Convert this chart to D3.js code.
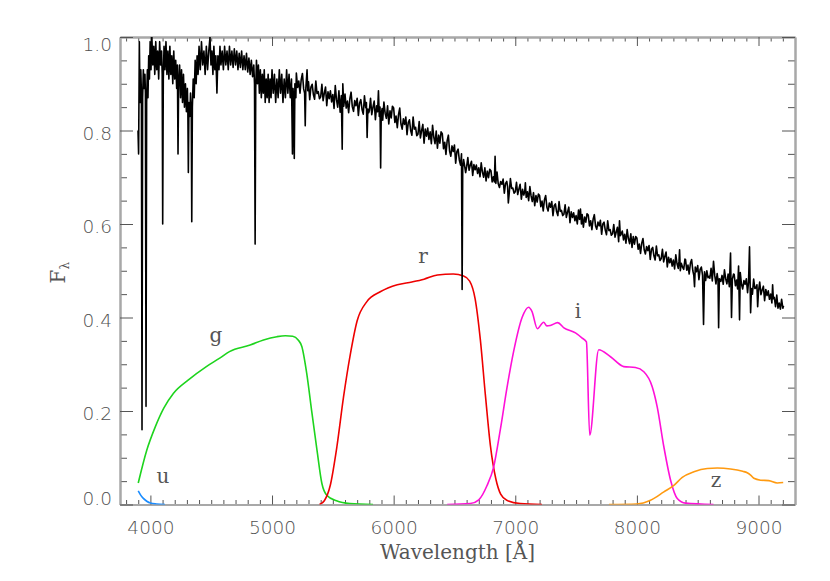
<!DOCTYPE html>
<html>
<head>
<meta charset="utf-8">
<script src="https://cdn.jsdelivr.net/npm/d3@7"></script>
<style>
    body { margin: 0; background: #fff; }
    #chart { width: 830px; height: 581px; }
    .axis .domain { stroke: #a8a8a8; stroke-width: 2; }
    .axis line { stroke: #555; stroke-width: 1; }
    .axis text { font-family: "DejaVu Sans", sans-serif; font-weight: 200; font-size: 18.5px; fill: #505050; }
    .label { font-family: "DejaVu Serif", serif; font-size: 20px; fill: #555; }
</style>
</head>
<body>
<div id="chart"></div>
<script>
// tick labels
const xTickValues = [4000, 5000, 6000, 7000, 8000, 9000];
const yTickValues = [0.0, 0.2, 0.4, 0.6, 0.8, 1.0];

// stellar spectrum, [wavelength (A), flux]
const spectrum = [
    [3898,0.80],[3903,0.75],[3909,0.99],[3915,0.86],[3921,0.93],[3926,0.88],[3931,0.16],[3936,0.87],
    [3942,0.93],[3948,0.89],[3955,0.92],[3959,0.88],[3964,0.21],[3969,0.86],[3975,0.93],[3980,0.87],
    [3986,0.96],[3992,0.91],[3998,0.99],[4005,0.93],[4012,1.0],[4020,0.94],[4028,0.98],[4036,0.92],
    [4044,0.99],[4052,0.93],[4060,0.97],[4068,0.91],[4076,0.99],[4084,0.94],[4092,0.97],[4097,0.92],
    [4101,0.60],[4106,0.91],[4112,0.98],[4120,0.93],[4128,0.99],[4136,0.92],[4144,0.97],[4152,0.91],
    [4160,0.98],[4168,0.92],[4176,0.96],[4184,0.90],[4192,0.97],[4200,0.91],[4208,0.95],[4216,0.89],
    [4222,0.94],[4227,0.75],[4232,0.90],[4240,0.94],[4248,0.87],[4256,0.93],[4264,0.86],[4272,0.92],
    [4280,0.85],[4288,0.90],[4296,0.84],[4304,0.89],[4308,0.84],[4312,0.71],[4317,0.86],[4324,0.83],
    [4330,0.88],[4336,0.84],[4340,0.605],[4345,0.85],[4352,0.91],[4360,0.87],[4368,0.95],[4376,0.90],
    [4384,0.96],[4392,0.92],[4400,0.98],[4410,0.93],[4420,0.99],[4430,0.94],[4440,0.97],[4450,0.92],
    [4460,0.98],[4470,0.93],[4480,0.97],[4490,1.0],[4498,0.94],[4506,0.97],[4514,0.92],[4522,0.98],
    [4530,0.93],[4538,0.96],[4547,0.88],[4555,0.96],[4564,0.93],[4572,0.98],[4580,0.94],[4590,0.97],
    [4600,0.93],[4610,0.98],[4620,0.94],[4630,0.97],[4640,0.93],[4650,0.98],[4660,0.94],[4670,0.97],
    [4680,0.935],[4690,0.975],[4700,0.94],[4710,0.97],[4720,0.93],[4730,0.965],[4740,0.935],[4750,0.97],
    [4760,0.93],[4770,0.96],[4780,0.93],[4790,0.965],[4800,0.925],[4810,0.955],[4820,0.92],[4830,0.95],
    [4840,0.915],[4850,0.94],[4856,0.90],[4861,0.557],[4866,0.89],[4872,0.95],[4880,0.90],[4888,0.94],
    [4896,0.88],[4904,0.93],[4912,0.87],[4920,0.92],[4928,0.88],[4936,0.93],[4944,0.86],[4952,0.91],
    [4960,0.87],[4968,0.92],[4976,0.86],[4984,0.91],[4992,0.87],[5000,0.93],[5010,0.88],[5020,0.92],
    [5030,0.86],[5040,0.91],[5050,0.87],[5060,0.93],[5070,0.88],[5080,0.92],[5090,0.86],[5100,0.91],
    [5110,0.87],[5120,0.93],[5130,0.88],[5140,0.92],[5150,0.87],[5160,0.91],[5168,0.75],[5173,0.89],
    [5178,0.86],[5183,0.74],[5188,0.90],[5196,0.87],
    [5200,0.923],[5210,0.892],[5220,0.906],[5230,0.880],[5240,0.909],[5250,0.922],[5260,0.889],[5268,0.88],
    [5273,0.81],[5278,0.89],[5288,0.93],[5294,0.885],
    [5300,0.904],[5310,0.866],[5320,0.893],[5330,0.899],[5340,0.877],[5350,0.867],[5360,0.906],[5370,0.879],
    [5380,0.883],[5390,0.868],
    [5400,0.872],[5410,0.899],[5420,0.864],[5430,0.880],[5440,0.893],[5450,0.853],[5460,0.883],[5470,0.868],
    [5480,0.885],[5490,0.861],
    [5500,0.877],[5510,0.847],[5520,0.896],[5530,0.866],[5540,0.850],[5550,0.885],[5560,0.839],[5570,0.875],
    [5577,0.76],[5582,0.90],[5590,0.852],
    [5600,0.878],[5610,0.848],[5620,0.863],[5630,0.838],[5640,0.868],[5650,0.882],[5660,0.851],[5670,0.841],
    [5680,0.864],[5690,0.853],
    [5700,0.869],[5710,0.832],[5720,0.859],[5730,0.866],[5740,0.845],[5750,0.835],[5760,0.874],[5770,0.849],
    [5776,0.86],[5782,0.785],[5788,0.846],[5795,0.838],
    [5800,0.842],[5810,0.869],[5820,0.834],[5830,0.850],[5840,0.863],[5850,0.823],[5860,0.853],[5868,0.84],
    [5875,0.885],[5882,0.83],[5888,0.85],[5893,0.72],[5898,0.835],
    [5905,0.847],[5910,0.822],[5920,0.861],[5930,0.837],[5940,0.826],[5950,0.853],[5960,0.814],[5970,0.842],
    [5980,0.827],[5990,0.852],
    [6000,0.848],[6010,0.817],[6020,0.831],[6030,0.806],[6040,0.834],[6050,0.848],[6060,0.814],[6070,0.803],
    [6080,0.825],[6090,0.813],
    [6100,0.829],[6110,0.791],[6120,0.817],[6130,0.823],[6140,0.800],[6150,0.790],[6160,0.829],[6170,0.803],
    [6180,0.807],[6190,0.789],
    [6200,0.792],[6210,0.819],[6220,0.784],[6230,0.800],[6240,0.813],[6250,0.773],[6260,0.803],[6270,0.788],
    [6280,0.805],[6290,0.781],
    [6300,0.797],[6310,0.772],[6320,0.811],[6330,0.786],[6340,0.772],[6350,0.799],[6360,0.762],[6370,0.790],
    [6380,0.773],[6390,0.797],
    [6400,0.793],[6410,0.761],[6420,0.775],[6430,0.749],[6440,0.778],[6450,0.790],[6460,0.756],[6470,0.745],
    [6480,0.767],[6490,0.755],
    [6500,0.769],[6510,0.730],[6520,0.755],[6530,0.760],[6540,0.737],[6550,0.726],[6558,0.75],[6563,0.46],
    [6568,0.72],[6575,0.738],[6585,0.722],[6592,0.71],
    [6600,0.722],[6610,0.742],[6620,0.715],[6630,0.726],[6640,0.734],[6650,0.704],[6660,0.727],[6670,0.716],
    [6680,0.726],[6690,0.708],
    [6700,0.720],[6710,0.701],[6720,0.731],[6730,0.711],[6740,0.700],[6750,0.720],[6760,0.692],[6770,0.713],
    [6780,0.699],[6790,0.717],
    [6800,0.714],[6810,0.690],[6820,0.701],[6828,0.69],[6834,0.745],[6840,0.687],[6850,0.711],[6860,0.686],
    [6870,0.678],[6880,0.691],[6890,0.685],
    [6900,0.696],[6910,0.666],[6920,0.687],[6930,0.691],[6937,0.68],[6943,0.645],[6950,0.665],[6960,0.697],
    [6970,0.676],[6980,0.677],[6990,0.666],
    [7000,0.669],[7010,0.689],[7020,0.663],[7030,0.675],[7040,0.685],[7050,0.653],[7060,0.674],[7070,0.662],
    [7078,0.670],[7083,0.688],[7090,0.657],
    [7100,0.669],[7110,0.650],[7120,0.680],[7130,0.660],[7140,0.648],[7150,0.667],[7160,0.639],[7170,0.661],
    [7180,0.647],[7190,0.664],
    [7200,0.661],[7210,0.637],[7220,0.649],[7230,0.628],[7240,0.652],[7250,0.661],[7260,0.636],[7270,0.628],
    [7280,0.645],[7290,0.636],
    [7300,0.648],[7310,0.618],[7320,0.639],[7330,0.643],[7340,0.626],[7350,0.618],[7360,0.648],[7370,0.627],
    [7380,0.629],[7390,0.618],
    [7400,0.621],[7410,0.641],[7420,0.614],[7430,0.626],[7440,0.636],[7450,0.603],[7460,0.626],[7470,0.614],
    [7480,0.624],[7490,0.607],
    [7500,0.618],[7510,0.600],[7520,0.630],[7528,0.610],[7536,0.632],[7544,0.600],[7550,0.620],[7560,0.593],
    [7570,0.615],[7580,0.604],[7590,0.622],
    [7600,0.619],[7610,0.596],[7620,0.607],[7630,0.588],[7640,0.610],[7650,0.620],[7660,0.596],[7670,0.589],
    [7680,0.604],[7690,0.596],
    [7700,0.608],[7710,0.578],[7720,0.600],[7730,0.604],[7740,0.587],[7750,0.577],[7760,0.607],[7770,0.586],
    [7780,0.588],[7790,0.576],
    [7800,0.579],[7810,0.599],[7820,0.572],[7830,0.583],[7840,0.593],[7850,0.562],[7857,0.607],[7864,0.575],
    [7870,0.578],[7880,0.585],[7890,0.566],
    [7900,0.578],[7910,0.559],[7920,0.588],[7930,0.569],[7940,0.558],[7950,0.579],[7960,0.550],[7970,0.573],
    [7980,0.557],[7990,0.573],
    [8000,0.570],[8010,0.546],[8020,0.557],[8030,0.537],[8040,0.559],[8050,0.569],[8060,0.545],[8070,0.536],
    [8080,0.552],[8090,0.543],
    [8100,0.554],[8110,0.524],[8120,0.546],[8130,0.550],[8140,0.532],[8150,0.523],[8160,0.553],[8170,0.532],
    [8180,0.534],[8190,0.522],
    [8200,0.526],[8210,0.546],[8220,0.519],[8230,0.531],[8240,0.540],[8250,0.508],[8260,0.529],[8270,0.517],
    [8280,0.526],[8290,0.510],
    [8300,0.523],[8310,0.504],[8320,0.534],[8330,0.515],[8340,0.505],[8346,0.52],[8351,0.545],[8357,0.50],
    [8365,0.516],[8375,0.508],[8385,0.503],[8395,0.525],
    [8400,0.524],[8410,0.501],[8420,0.512],[8430,0.493],[8440,0.516],[8450,0.524],[8460,0.500],[8468,0.49],
    [8474,0.466],[8480,0.508],[8490,0.498],
    [8500,0.511],[8510,0.481],[8520,0.503],[8530,0.508],[8540,0.490],[8548,0.385],[8556,0.498],[8565,0.479],
    [8575,0.500],[8585,0.485],[8595,0.488],
    [8600,0.484],[8610,0.505],[8620,0.478],[8630,0.52],[8640,0.490],[8650,0.472],[8660,0.494],[8667,0.48],
    [8672,0.378],[8678,0.483],[8690,0.477],
    [8700,0.490],[8710,0.471],[8720,0.502],[8730,0.483],[8740,0.472],[8750,0.493],[8760,0.466],[8770,0.538],
    [8778,0.40],[8785,0.482],[8795,0.493],
    [8800,0.492],[8810,0.468],[8820,0.480],[8828,0.461],[8836,0.51],[8844,0.395],[8850,0.496],[8860,0.471],
    [8870,0.461],[8880,0.479],[8890,0.471],
    [8900,0.483],[8910,0.453],[8918,0.476],[8926,0.551],[8935,0.41],[8942,0.462],[8950,0.450],[8960,0.482],
    [8970,0.462],[8980,0.464],[8987,0.47],[8993,0.423],
    [9000,0.456],[9010,0.476],[9020,0.449],[9030,0.459],[9040,0.467],[9050,0.436],[9060,0.460],[9070,0.447],
    [9080,0.457],[9090,0.439],
    [9100,0.450],[9110,0.431],[9116,0.47],[9122,0.44],[9130,0.443],[9140,0.423],[9150,0.448],[9160,0.420],
    [9170,0.431],[9180,0.418],[9190,0.439],[9200,0.420],[9206,0.425]
];

// SDSS filter transmission curves, [wavelength (A), throughput]
const uFilter = [[3900,0.029],[3920,0.020],[3942,0.013],[3970,0.007],[4000,0.003],[4050,0.001],[4120,0.0]];
const gFilter = [[3900,0.046],[3970,0.116],[4040,0.166],[4110,0.206],[4190,0.238],[4310,0.266],[4460,0.295],
    [4570,0.313],[4650,0.327],[4820,0.341],[4930,0.352],[5040,0.359],[5110,0.361],[5170,0.360],[5215,0.352],
    [5245,0.338],[5285,0.281],[5325,0.202],[5370,0.116],[5410,0.045],[5450,0.020],[5530,0.008],[5640,0.002],[5830,0.0]];
const rFilter = [[5390,0.0],[5430,0.008],[5478,0.04],[5533,0.123],[5588,0.23],[5643,0.32],[5700,0.393],
    [5780,0.434],[5890,0.455],[6030,0.47],[6150,0.476],[6250,0.482],[6360,0.491],[6490,0.493],[6575,0.489],
    [6625,0.478],[6670,0.44],[6713,0.352],[6754,0.235],[6795,0.127],[6840,0.055],[6880,0.022],[6930,0.009],
    [7040,0.002],[7220,0.0]];
const iFilter = [[6440,0.0],[6630,0.002],[6700,0.01],[6767,0.04],[6822,0.08],[6877,0.16],[6932,0.25],
    [6987,0.328],[7056,0.40],[7110,0.422],[7137,0.413],[7182,0.376],[7233,0.39],[7260,0.382],[7288,0.383],
    [7349,0.389],[7400,0.378],[7495,0.367],[7550,0.356],[7585,0.348],[7612,0.148],[7686,0.331],[7783,0.316],
    [7892,0.295],[7988,0.293],[8057,0.284],[8126,0.252],[8167,0.209],[8222,0.123],[8277,0.052],[8332,0.013],
    [8400,0.003],[8630,0.0]];
const zFilter = [[7770,0.0],[8000,0.001],[8112,0.009],[8222,0.027],[8304,0.041],[8373,0.058],[8469,0.070],
    [8579,0.077],[8661,0.078],[8770,0.076],[8870,0.071],[8907,0.068],[8935,0.063],[8962,0.056],[9017,0.052],
    [9085,0.051],[9154,0.046],[9203,0.047]];

const filterNames = ["u", "g", "r", "i", "z"];
const filterCurves = [uFilter, gFilter, rFilter, iFilter, zFilter];


class SpectrumChart {
    constructor(parentElement) {
        this.parentElement = parentElement;
        this.initVis();
    }

    initVis() {
        let vis = this;

        vis.margin = {top: 37, right: 35, bottom: 76.5, left: 120};
        vis.width = 830 - vis.margin.left - vis.margin.right;
        vis.height = 581 - vis.margin.top - vis.margin.bottom;

        vis.svg = d3.select("#" + vis.parentElement).append("svg")
            .attr("width", vis.width + vis.margin.left + vis.margin.right)
            .attr("height", vis.height + vis.margin.top + vis.margin.bottom)
            .append("g")
            .attr("transform", "translate(" + vis.margin.left + "," + vis.margin.top + ")");

        vis.x = d3.scaleLinear().domain([3750, 9300]).range([0, vis.width]);
        vis.y = d3.scaleLinear().domain([0, 1]).range([vis.height, 0]);

        vis.svg.append("clipPath").attr("id", "plot-clip")
            .append("rect").attr("width", vis.width).attr("height", vis.height);

        // colours and label anchors (data units) for the filters
        vis.colors = {u: "#1a8cff", g: "#1ed41e", r: "#ee0000", i: "#ff10d8", z: "#ff9a10"};
        vis.labelAt = {u: [4104, 0.047], g: [4539, 0.348], r: [6241, 0.517], i: [7516, 0.398], z: [8651, 0.037]};

        vis.drawAxes();
        vis.updateVis();
    }

    drawAxes() {
        let vis = this;

        let xMinor = d3.range(3800, 9300, 100).filter(d => d % 1000 !== 0);
        let yMinor = d3.range(0, 21).map(d => d / 20).filter(d => d * 20 % 4 !== 0);

        let addAxis = (axis, transform) => vis.svg.append("g")
            .attr("class", "axis")
            .attr("transform", transform)
            .call(axis.tickSizeOuter(0));

        // minor ticks
        addAxis(d3.axisBottom(vis.x).tickValues(xMinor).tickSize(-4.5).tickFormat(""), `translate(0,${vis.height})`);
        addAxis(d3.axisTop(vis.x).tickValues(xMinor).tickSize(-4.5).tickFormat(""), "translate(0,0)");
        addAxis(d3.axisLeft(vis.y).tickValues(yMinor).tickSize(-7).tickFormat(""), "translate(0,0)");
        addAxis(d3.axisRight(vis.y).tickValues(yMinor).tickSize(-7).tickFormat(""), `translate(${vis.width},0)`);

        // major ticks
        addAxis(d3.axisBottom(vis.x).tickValues(xTickValues).tickSize(-9).tickPadding(16.5).tickFormat(d3.format("d")),
            `translate(0,${vis.height})`);
        addAxis(d3.axisTop(vis.x).tickValues(xTickValues).tickSize(-9).tickFormat(""), "translate(0,0)");
        let yAxis = addAxis(d3.axisLeft(vis.y).tickValues(yTickValues).tickSize(-13).tickPadding(8).tickFormat(d3.format(".1f")),
            "translate(0,0)");
        addAxis(d3.axisRight(vis.y).tickValues(yTickValues).tickSize(-13).tickFormat(""), `translate(${vis.width},0)`);

        // end labels are kept inside the axis range
        yAxis.selectAll("text")
            .attr("dy", d => d === 1 ? "0.74em" : d === 0 ? "0em" : "0.47em");

        // axis titles
        vis.svg.append("text")
            .attr("class", "label")
            .attr("x", vis.width / 2)
            .attr("y", vis.height + 54)
            .attr("text-anchor", "middle")
            .text("Wavelength [Å]");

        let yTitle = vis.svg.append("text")
            .attr("class", "label")
            .attr("transform", `translate(${65 - vis.margin.left},${vis.height / 2 + 2}) rotate(-90)`)
            .attr("text-anchor", "middle");
        yTitle.append("tspan").text("F");
        yTitle.append("tspan").attr("dy", 4).style("font-size", "12px").text("λ");
    }

    updateVis() {
        let vis = this;

        let line = d3.line()
            .x(d => vis.x(d[0]))
            .y(d => vis.y(d[1]));

        let smooth = d3.line()
            .curve(d3.curveMonotoneX)
            .x(d => vis.x(d[0]))
            .y(d => vis.y(d[1]));

        let plot = vis.svg.append("g").attr("clip-path", "url(#plot-clip)");

        plot.selectAll(".filter")
            .data(filterNames)
            .enter()
            .append("path")
            .attr("class", "filter")
            .attr("d", (d, i) => smooth(filterCurves[i]))
            .attr("fill", "none")
            .attr("stroke", d => vis.colors[d])
            .attr("stroke-width", 1.6);

        plot.append("path")
            .attr("class", "spectrum")
            .attr("d", line(spectrum))
            .attr("fill", "none")
            .attr("stroke", "#000")
            .attr("stroke-width", 1.6)
            .attr("stroke-linejoin", "round");

        vis.svg.selectAll(".filter-label")
            .data(filterNames)
            .enter()
            .append("text")
            .attr("class", "label filter-label")
            .attr("x", d => vis.x(vis.labelAt[d][0]))
            .attr("y", d => vis.y(vis.labelAt[d][1]))
            .attr("text-anchor", "middle")
            .text(d => d);
    }
}

new SpectrumChart("chart");
</script>
</body>
</html>
